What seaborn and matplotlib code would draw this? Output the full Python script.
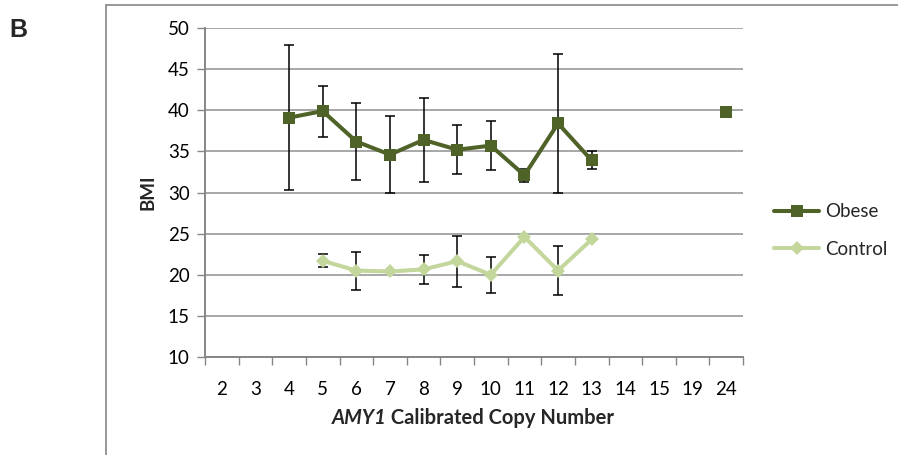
import matplotlib
matplotlib.use("Agg")
import matplotlib.pyplot as plt
import seaborn as sns
import pandas as pd
from matplotlib.lines import Line2D

# Copy-number categories on the x axis
copy_numbers = ["2", "3", "4", "5", "6", "7", "8", "9", "10", "11",
                "12", "13", "14", "15", "19", "24"]

# Obese group: mean BMI and error per copy number
obese_cn = ["4", "5", "6", "7", "8", "9", "10", "11", "12", "13"]
obese_bmi = [39.1, 39.9, 36.2, 34.6, 36.4, 35.2, 35.7, 32.1, 38.4, 33.9]
obese_err = [8.85, 3.1, 4.7, 4.7, 5.1, 3.0, 3.0, 0.8, 8.4, 1.1]
obese_single_cn = ["24"]
obese_single_bmi = [39.75]

# Control group
control_cn = ["5", "6", "7", "8", "9", "10", "11", "12", "13"]
control_bmi = [21.7, 20.5, 20.4, 20.65, 21.65, 20.0, 24.6, 20.5, 24.3]
control_err = [0.8, 2.3, 0.0, 1.8, 3.1, 2.2, 0.0, 3.0, 0.0]

OBESE = "#4F6228"
CONTROL = "#C3D69B"
GRID = "#A0A0A0"
AXIS = "#868686"

sns.set_theme(style="white")
plt.rcParams["font.family"] = ["Lato", "DejaVu Sans"]


def pos(labels):
    return [copy_numbers.index(c) for c in labels]


obese_df = pd.DataFrame({"x": pos(obese_cn), "bmi": obese_bmi, "err": obese_err})
obese_pt = pd.DataFrame({"x": pos(obese_single_cn), "bmi": obese_single_bmi})
control_df = pd.DataFrame({"x": pos(control_cn), "bmi": control_bmi, "err": control_err})

fig = plt.figure(figsize=(8.98, 4.55), dpi=100)
ax = fig.add_axes([205 / 898, 1 - 357 / 455, 538 / 898, 329 / 455])

# Error bars (behind the markers)
for df in (obese_df, control_df):
    d = df[df["err"] > 0]
    ax.errorbar(d["x"], d["bmi"], yerr=d["err"], fmt="none", ecolor="black",
                elinewidth=1.1, capsize=3.8, capthick=1.1, zorder=3)

sns.lineplot(data=obese_df, x="x", y="bmi", ax=ax, color=OBESE, lw=2.9,
             marker="s", markersize=9.2, markeredgewidth=0, zorder=4,
             legend=False)
sns.scatterplot(data=obese_pt, x="x", y="bmi", ax=ax, color=OBESE,
                marker="s", s=9.2 ** 2, linewidth=0, zorder=4, legend=False)
sns.lineplot(data=control_df, x="x", y="bmi", ax=ax, color=CONTROL, lw=2.9,
             marker="D", markersize=7.0, markeredgewidth=0, zorder=4,
             legend=False)

# Axes styling
ax.set_xlim(-0.5, len(copy_numbers) - 0.5)
ax.set_ylim(10, 50)
ax.set_yticks(range(10, 51, 5))
ax.set_xticks(range(len(copy_numbers)))
ax.set_xticklabels(copy_numbers)
ax.set_xticks([i - 0.5 for i in range(len(copy_numbers) + 1)], minor=True)
ax.tick_params(axis="x", which="major", length=0, pad=17, labelsize=13.5,
               colors="black")
ax.tick_params(axis="x", which="minor", length=6, width=1.0, color=AXIS,
               direction="out", bottom=True)
ax.tick_params(axis="y", length=6, width=1.0, color=AXIS, direction="out",
               left=True, labelsize=13.5, pad=5, labelcolor="black")
ax.yaxis.grid(True, color=GRID, lw=1.3)
ax.set_axisbelow(True)
for side in ("top", "right"):
    ax.spines[side].set_visible(False)
for side in ("left", "bottom"):
    ax.spines[side].set_color(AXIS)
    ax.spines[side].set_linewidth(1.4)
ax.set_xlabel("")
ax.set_ylabel("BMI", fontsize=13.5, fontweight="bold", labelpad=8)

# x-axis title with italic gene name
fig.canvas.draw()
renderer = fig.canvas.get_renderer()
ylab = 1 - 418 / 455
t1 = fig.text(0, ylab, "AMY1", fontsize=14.5, fontweight="bold",
              fontstyle="italic", va="center", ha="left")
t2 = fig.text(0, ylab, " Calibrated Copy Number", fontsize=14.5,
              fontweight="bold", va="center", ha="left")
w1 = t1.get_window_extent(renderer).width
w2 = t2.get_window_extent(renderer).width
x0 = 473 - (w1 + w2) / 2
t1.set_x(x0 / 898)
t2.set_x((x0 + w1) / 898)

# Legend
handles = [
    Line2D([], [], color=OBESE, lw=2.9, marker="s", markersize=9.2,
           markeredgewidth=0),
    Line2D([], [], color=CONTROL, lw=2.9, marker="D", markersize=7.0,
           markeredgewidth=0),
]
fig.legend(handles, ["Obese", "Control"], loc="center left",
           bbox_to_anchor=(774 / 898, 1 - 230.5 / 455), frameon=False,
           fontsize=13.5, handlelength=2.4, handletextpad=0.3,
           labelspacing=1.1, borderpad=0, borderaxespad=0)

# Panel letter and chart frame
fig.text(9 / 898, 1 - 30 / 455, "B", fontsize=18, fontweight="bold",
         family="Liberation Sans", va="center", ha="left")
fig.add_artist(Line2D([105.5 / 898, 105.5 / 898], [0, 1 - 4.5 / 455],
                      transform=fig.transFigure, color=AXIS, lw=1.2))
fig.add_artist(Line2D([105.5 / 898, 1], [1 - 4.5 / 455, 1 - 4.5 / 455],
                      transform=fig.transFigure, color=AXIS, lw=1.2))

fig.savefig("out.png", dpi=100, facecolor="white")
